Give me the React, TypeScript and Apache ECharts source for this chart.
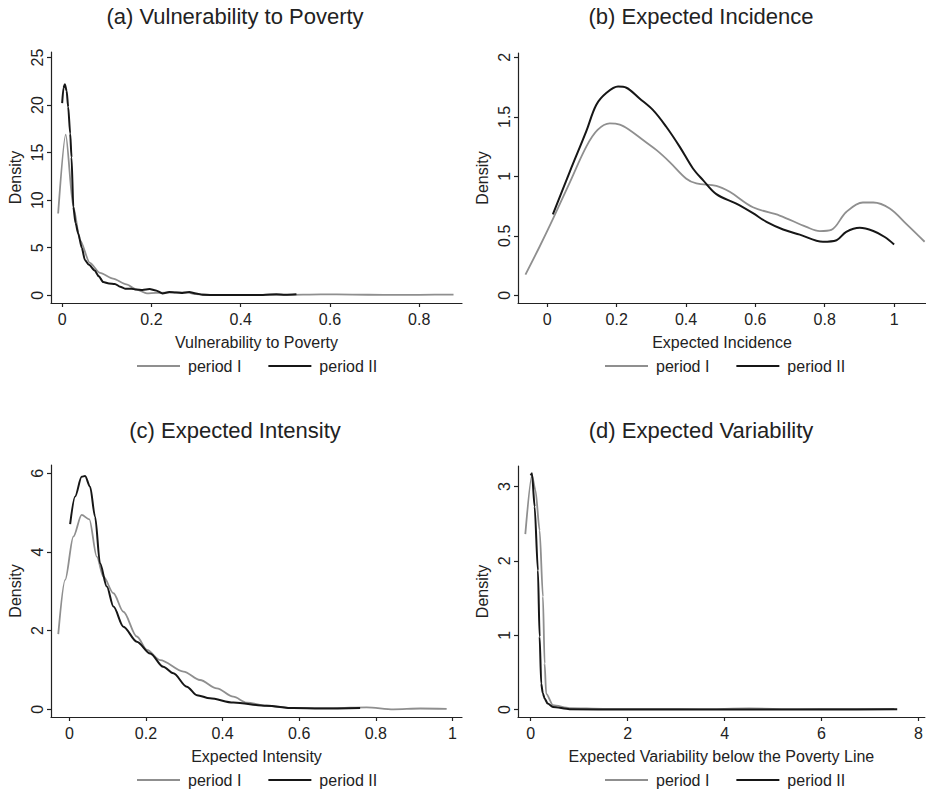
import React, { useEffect, useRef } from "react";
import * as echarts from "echarts";

// ---------- data ----------
const titles = [
  "(a) Vulnerability to Poverty",
  "(b) Expected Incidence",
  "(c) Expected Intensity",
  "(d) Expected Variability",
];
const xTitles = [
  "Vulnerability to Poverty",
  "Expected Incidence",
  "Expected Intensity",
  "Expected Variability below the Poverty Line",
];
const seriesNames = ["period I", "period II"];

const xTicksA = [0, 0.2, 0.4, 0.6, 0.8];
const yTicksA = [0, 5, 10, 15, 20, 25];
const xTicksB = [0, 0.2, 0.4, 0.6, 0.8, 1];
const yTicksB = [0, 0.5, 1, 1.5, 2];
const xTicksC = [0, 0.2, 0.4, 0.6, 0.8, 1];
const yTicksC = [0, 2, 4, 6];
const xTicksD = [0, 2, 4, 6, 8];
const yTicksD = [0, 1, 2, 3];

// (a) Vulnerability to Poverty
const aX1 = [-0.009, 0.008, 0.025, 0.04, 0.062, 0.085, 0.114, 0.144, 0.167, 0.19, 0.21, 0.25, 0.28, 0.3, 0.33, 0.4, 0.5, 0.58, 0.65, 0.72, 0.8, 0.877];
const aY1 = [8.6, 16.9, 9.3, 5.8, 3.4, 2.35, 1.75, 1.15, 0.6, 0.2, 0.25, 0.3, 0.3, 0.12, 0.05, 0.05, 0.05, 0.1, 0.08, 0.04, 0.05, 0.08];
const aX2 = [0.0, 0.003, 0.006, 0.01, 0.0135, 0.018, 0.021, 0.025, 0.03, 0.036, 0.044, 0.051, 0.06, 0.073, 0.082, 0.092, 0.105, 0.118, 0.13, 0.141, 0.155, 0.166, 0.18, 0.196, 0.21, 0.225, 0.24, 0.255, 0.27, 0.285, 0.3, 0.315, 0.35, 0.4, 0.45, 0.48, 0.5, 0.525];
const aY2 = [20.2, 21.8, 22.2, 21.5, 19.8, 17, 14.5, 9.3, 7.6, 6.5, 5.0, 3.7, 3.2, 2.6, 2.0, 1.4, 1.25, 1.2, 0.9, 0.7, 0.7, 0.6, 0.55, 0.65, 0.5, 0.2, 0.35, 0.3, 0.25, 0.35, 0.2, 0.05, 0.02, 0.02, 0.03, 0.12, 0.05, 0.1];

// (b) Expected Incidence
const bX1 = [-0.063, -0.022, 0.016, 0.065, 0.1125, 0.145, 0.18, 0.209, 0.237, 0.276, 0.315, 0.353, 0.401, 0.43, 0.4875, 0.526, 0.593, 0.67, 0.747, 0.786, 0.819, 0.862, 0.91, 0.94, 0.9875, 1.035, 1.088];
const bY1 = [0.174, 0.41, 0.64, 0.95, 1.25, 1.39, 1.445, 1.435, 1.39, 1.305, 1.22, 1.12, 0.98, 0.94, 0.92, 0.87, 0.74, 0.67, 0.575, 0.54, 0.55, 0.7, 0.78, 0.78, 0.73, 0.6, 0.45];
const bX2 = [0.016, 0.065, 0.1125, 0.141, 0.17, 0.204, 0.228, 0.266, 0.305, 0.343, 0.382, 0.42, 0.449, 0.4875, 0.545, 0.593, 0.632, 0.68, 0.728, 0.795, 0.834, 0.862, 0.901, 0.94, 0.973, 1.0];
const bY2 = [0.68, 1.04, 1.38, 1.6, 1.7, 1.755, 1.745, 1.655, 1.557, 1.417, 1.248, 1.066, 0.968, 0.85, 0.77, 0.69, 0.617, 0.553, 0.51, 0.45, 0.463, 0.533, 0.567, 0.54, 0.49, 0.427];

// (c) Expected Intensity
const cX1 = [-0.029, -0.011, 0.0104, 0.032, 0.052, 0.0715, 0.089, 0.115, 0.141, 0.176, 0.2025, 0.237, 0.298, 0.341, 0.385, 0.428, 0.463, 0.515, 0.585, 0.689, 0.776, 0.846, 0.916, 0.985];
const cY1 = [1.91, 3.29, 4.39, 4.94, 4.83, 3.88, 3.37, 2.95, 2.48, 1.85, 1.51, 1.25, 0.96, 0.745, 0.53, 0.32, 0.17, 0.09, 0.03, 0.03, 0.05, 0.0, 0.02, 0.01];
const cX2 = [0.002, 0.015, 0.032, 0.041, 0.054, 0.067, 0.08, 0.0977, 0.115, 0.141, 0.176, 0.211, 0.245, 0.2715, 0.3065, 0.333, 0.367, 0.428, 0.515, 0.585, 0.655, 0.759];
const cY2 = [4.71, 5.41, 5.91, 5.93, 5.66, 4.9, 3.71, 3.12, 2.61, 2.1, 1.72, 1.42, 1.08, 0.915, 0.575, 0.36, 0.28, 0.17, 0.09, 0.03, 0.02, 0.03];

// (d) Expected Variability
const dX1 = [-0.11, 0.027, 0.1, 0.185, 0.253, 0.288, 0.32, 0.46, 0.8, 1.5, 2.5, 3.5, 4.5, 5.5, 6.5, 7.5];
const dY1 = [2.36, 3.15, 2.95, 2.41, 1.52, 0.62, 0.215, 0.06, 0.02, 0.01, 0.01, 0.005, 0.015, 0.005, 0.01, 0.01];
const dX2 = [0.0, 0.027, 0.082, 0.15, 0.185, 0.218, 0.25, 0.288, 0.35, 0.46, 0.8, 2, 4, 6, 7.56];
const dY2 = [3.15, 3.18, 2.73, 1.87, 0.98, 0.35, 0.22, 0.15, 0.08, 0.035, 0.005, 0.0, 0.0, 0.0, 0.005];

// ---------- styles ----------
const FONT = "'Liberation Sans', Arial, Helvetica, sans-serif";
const GREY = "#8f8f8f";
const BLACK = "#161616";
const TEXT = "#222222";

const zip = (xs: number[], ys: number[]) => xs.map((x, i) => [x, ys[i]]);

const panels = [
  { grid: { left: 51, top: 52, width: 411, height: 251 }, xr: [-0.025, 0.896], yr: [-0.81, 25.58], xt: xTicksA, yt: yTicksA, s1: zip(aX1, aY1), s2: zip(aX2, aY2), tx: 235, ty: 5, lx: 137, ly: 358, sm: 0.25, mono: true },
  { grid: { left: 518, top: 53, width: 408, height: 250 }, xr: [-0.0845, 1.092], yr: [-0.065, 2.037], xt: xTicksB, yt: yTicksB, s1: zip(bX1, bY1), s2: zip(bX2, bY2), tx: 701, ty: 5, lx: 605, ly: 358, sm: 0.35, mono: false },
  { grid: { left: 51, top: 465, width: 411, height: 252 }, xr: [-0.048, 1.025], yr: [-0.196, 6.21], xt: xTicksC, yt: yTicksC, s1: zip(cX1, cY1), s2: zip(cX2, cY2), tx: 235, ty: 419, lx: 137, ly: 772, sm: 0.3, mono: true },
  { grid: { left: 518, top: 466, width: 408, height: 251 }, xr: [-0.261, 8.13], yr: [-0.1, 3.277], xt: xTicksD, yt: yTicksD, s1: zip(dX1, dY1), s2: zip(dX2, dY2), tx: 701, ty: 419, lx: 605, ly: 772, sm: 0.25, mono: true },
];

export default function App() {
  const ref = useRef<HTMLDivElement>(null);

  useEffect(() => {
    if (!ref.current) return;
    const chart = echarts.init(ref.current, null, { renderer: "svg" });

    const axisLine = { show: true, onZero: false, lineStyle: { color: TEXT, width: 1.2 } };
    const axisTickBase = { show: true, inside: false, length: 4, lineStyle: { color: TEXT, width: 1.2 } };

    const option: any = {
      animation: false,
      backgroundColor: "#ffffff",
      title: panels.map((p, i) => ({
        text: titles[i],
        left: p.tx,
        top: p.ty,
        textAlign: "center",
        padding: 0,
        textStyle: { fontFamily: FONT, fontSize: 22, fontWeight: "normal", color: TEXT },
      })),
      grid: panels.map((p) => ({ ...p.grid, containLabel: false })),
      xAxis: panels.map((p, i) => ({
        type: "value",
        gridIndex: i,
        min: p.xr[0],
        max: p.xr[1],
        name: xTitles[i],
        nameLocation: "middle",
        nameGap: 31,
        nameTextStyle: { fontFamily: FONT, fontSize: 16, color: TEXT },
        axisLine,
        axisTick: { ...axisTickBase, customValues: p.xt },
        axisLabel: {
          customValues: p.xt,
          formatter: (v: number) => String(v),
          fontFamily: FONT,
          fontSize: 16,
          color: TEXT,
          margin: 8,
          showMinLabel: true,
          showMaxLabel: true,
        },
        splitLine: { show: false },
      })),
      yAxis: panels.map((p, i) => ({
        type: "value",
        gridIndex: i,
        min: p.yr[0],
        max: p.yr[1],
        name: "Density",
        nameLocation: "middle",
        nameGap: 28,
        nameTextStyle: { fontFamily: FONT, fontSize: 16, color: TEXT },
        axisLine,
        axisTick: { ...axisTickBase, customValues: p.yt },
        axisLabel: {
          customValues: p.yt,
          formatter: (v: number) => String(v),
          rotate: 90,
          fontFamily: FONT,
          fontSize: 16,
          color: TEXT,
          margin: 6,
        },
        splitLine: { show: false },
      })),
      legend: panels.map((p) => ({
        left: p.lx,
        top: p.ly,
        orient: "horizontal",
        itemWidth: 43,
        itemHeight: 2,
        itemGap: 27,
        icon: "rect",
        padding: 0,
        selectedMode: false,
        textStyle: { fontFamily: FONT, fontSize: 16, color: TEXT, padding: [0, 0, 0, 3] },
        data: [
          { name: seriesNames[0], itemStyle: { color: GREY } },
          { name: seriesNames[1], itemStyle: { color: BLACK } },
        ],
      })),
      series: panels.flatMap((p, i) => [
        {
          type: "line",
          name: seriesNames[0],
          xAxisIndex: i,
          yAxisIndex: i,
          data: p.s1,
          showSymbol: false,
          symbol: "none",
          smooth: p.sm,
          smoothMonotone: p.mono ? "x" : undefined,
          color: GREY,
          itemStyle: { color: GREY },
          lineStyle: { color: GREY, width: 1.8 },
          z: 2,
        },
        {
          type: "line",
          name: seriesNames[1],
          xAxisIndex: i,
          yAxisIndex: i,
          data: p.s2,
          showSymbol: false,
          symbol: "none",
          smooth: p.sm,
          smoothMonotone: p.mono ? "x" : undefined,
          color: BLACK,
          itemStyle: { color: BLACK },
          lineStyle: { color: BLACK, width: 2 },
          z: 3,
        },
      ]),
    };

    chart.setOption(option);
    return () => chart.dispose();
  }, []);

  return (
    <div
      ref={ref}
      style={{ position: "fixed", left: 0, top: 0, width: 926, height: 794, background: "#fff" }}
    />
  );
}
